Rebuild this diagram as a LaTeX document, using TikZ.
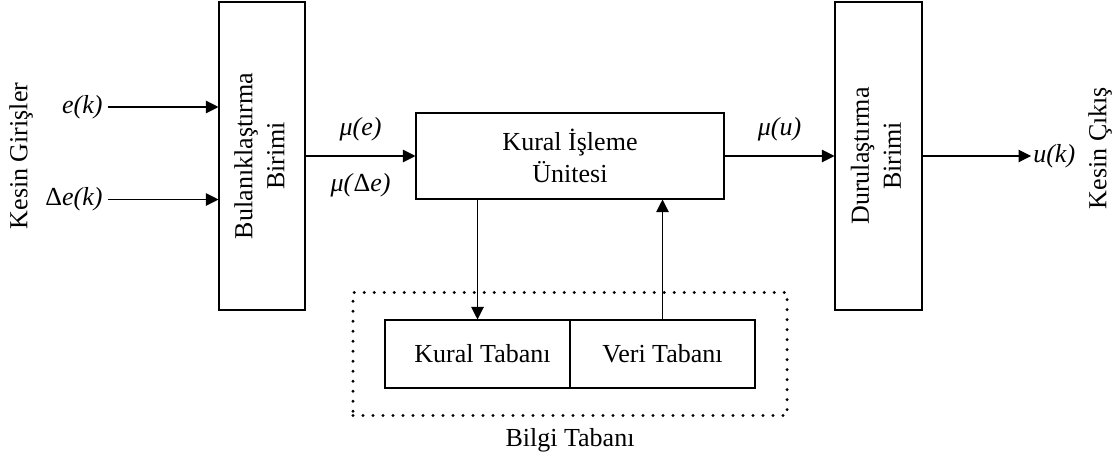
\documentclass[tikz,border=0pt]{standalone}
\usepackage{fontspec}
\setmainfont{Liberation Serif}
\usepackage{graphicx}
\usetikzlibrary{arrows.meta, calc, fit}

\newcommand{\dikey}[1]{\rotatebox{90}{\begin{tabular}{@{}c@{}}#1\end{tabular}}}

\begin{document}
\begin{tikzpicture}[>={Triangle[length=0.25cm, width=0.25cm]}, line width=0.6pt,
  every node/.style={font=\fontsize{14.8}{18.2}\selectfont},
  kutu/.style={draw, inner sep=0pt, align=center},
  noktali/.style={draw, line width=0.065cm, dash pattern=on 0pt off 0.2cm, line cap=round}]
  \useasboundingbox (0,0) rectangle (22.38,-9.18);
  % ana bloklar
  \node[kutu, minimum width=1.72cm, minimum height=6.16cm] (bulanik) at (5.24,-3.12) {\dikey{Bulanıklaştırma\\Birimi}};
  \node[kutu, minimum width=6.16cm, minimum height=1.72cm] (kural) at (11.4,-3.12) {Kural İşleme\\Ünitesi};
  \node[kutu, minimum width=1.74cm, minimum height=6.16cm] (durulas) at (17.57,-3.12) {\dikey{Durulaştırma\\Birimi}};
  % bilgi tabani
  \node[kutu, minimum width=3.7cm, minimum height=1.36cm] (kurtab) at (9.55,-7.08) {\hspace{0.2cm}Kural Tabanı};
  \node[kutu, minimum width=3.7cm, minimum height=1.36cm] (veritab) at (13.25,-7.08) {Veri Tabanı};
  \node[noktali, fit=(kurtab)(veritab), inner xsep=0.63cm, inner ysep=0.54cm] (bilgi) {};
  \node[below=0.1cm] (bilgiyazi) at (bilgi.south) {Bilgi Tabanı};
  % giris ve cikis
  \node[rotate=90] (giris) at (0.42,-3.12) {Kesin Girişler};
  \node[rotate=90] (cikis) at (22.0,-2.96) {Kesin Çıkış};
  \node[anchor=east, inner sep=2.5pt] (ek) at (2.15,-2.14) {\textit{e(k)}};
  \node[anchor=east, inner sep=2.5pt] (dek) at (2.15,-3.99) {Δ\textit{e(k)}};
  \node[anchor=west, inner sep=1pt] (uk) at (20.62,-3.12) {\textit{u(k)}};
  % baglantilar
  \draw[->] (ek) -- (ek -| bulanik.west);
  \draw[->] (dek) -- (dek -| bulanik.west);
  \draw[->] (bulanik) -- (kural) node[midway, above=0.18cm] {\textit{μ(e)}} node[midway, below=0.22cm] {\textit{μ(}Δ\textit{e)}};
  \draw[->] (kural) -- (durulas) node[midway, above=0.18cm] {\textit{μ(u)}};
  \draw[->] (durulas) -- (uk);
  \draw[->] (kural.south -| kurtab) -- (kurtab);
  \draw[->] (veritab) -- (veritab |- kural.south);
\end{tikzpicture}
\end{document}
